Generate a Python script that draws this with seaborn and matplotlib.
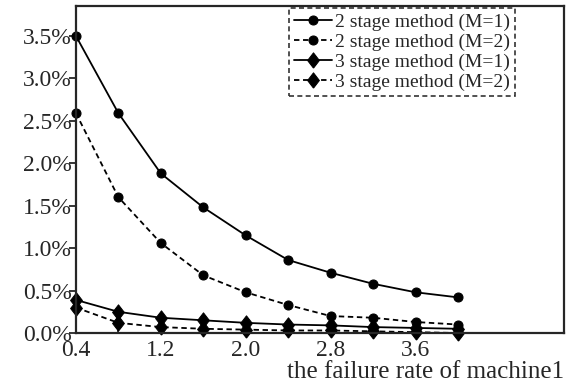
import numpy as np
import pandas as pd
import seaborn as sns
import matplotlib.pyplot as plt
from matplotlib.ticker import FixedLocator, FuncFormatter

# failure rate of machine 1
rate = [0.4, 0.8, 1.2, 1.6, 2.0, 2.4, 2.8, 3.2, 3.6, 4.0]

# error (%)
two_stage_m1 = [3.50, 2.59, 1.88, 1.48, 1.15, 0.86, 0.71, 0.58, 0.48, 0.42]
two_stage_m2 = [2.59, 1.60, 1.06, 0.68, 0.48, 0.33, 0.20, 0.18, 0.13, 0.10]
three_stage_m1 = [0.39, 0.25, 0.18, 0.15, 0.12, 0.10, 0.09, 0.07, 0.06, 0.05]
three_stage_m2 = [0.30, 0.12, 0.07, 0.05, 0.04, 0.03, 0.03, 0.02, 0.01, 0.00]

labels = ['2 stage method (M=1)', '2 stage method (M=2)',
          '3 stage method (M=1)', '3 stage method (M=2)']
series = [two_stage_m1, two_stage_m2, three_stage_m1, three_stage_m2]

x_ticks = [0.4, 1.2, 2.0, 2.8, 3.6]
y_ticks = [0.0, 0.5, 1.0, 1.5, 2.0, 2.5, 3.0, 3.5]

sns.set_style('ticks')
plt.rcParams['font.family'] = ['Liberation Serif', 'DejaVu Serif']

fig = plt.figure(figsize=(5.75, 3.85), dpi=100)
ax = fig.add_axes([0.132, 0.135, 0.849, 0.849])

# slightly tall diamond like the original
diamond = [(0, -1.3), (1, 0), (0, 1.3), (-1, 0), (0, -1.3)]
dash = (0, (3, 2))
styles = [('-', 'o', 6.5), (dash, 'o', 6.5),
          ('-', diamond, 11), (dash, diamond, 11)]
for lab, vals, (ls, mk, ms) in zip(labels, series, styles):
    df = pd.DataFrame({'rate': rate, 'err': vals})
    sns.lineplot(data=df, x='rate', y='err', ax=ax, color='black',
                 linestyle=ls, linewidth=1.3, marker=mk, markersize=ms,
                 markeredgecolor='black', label=lab, clip_on=False)

ax.set_xlim(0.4, 5.0)
ax.set_ylim(0.0, 3.85)
ax.xaxis.set_major_locator(FixedLocator(x_ticks))
ax.xaxis.set_minor_locator(FixedLocator([0.8, 1.6, 2.4, 3.2, 4.0]))
ax.yaxis.set_major_locator(FixedLocator(y_ticks))
ax.yaxis.set_major_formatter(FuncFormatter(lambda v, p: f'{v:.1f}%'))
ax.tick_params(axis='x', which='both', direction='in', length=5, width=1.3,
               labelsize=17, pad=5)
ax.tick_params(axis='y', direction='out', length=5, width=1.3,
               labelsize=17, pad=-2)
for s in ax.spines.values():
    s.set_linewidth(1.6)
    s.set_visible(True)

ax.set_ylabel('')
ax.set_xlabel('the failure rate of machine1', fontsize=18, loc='right',
              labelpad=0)

leg = ax.legend(loc='upper right', bbox_to_anchor=(0.9, 0.994),
                fontsize=14, frameon=True, fancybox=False,
                handlelength=2.0, handletextpad=0.15, labelspacing=0.12,
                borderpad=0.25, borderaxespad=0)
leg.get_frame().set_edgecolor('black')
leg.get_frame().set_linestyle(dash)
leg.get_frame().set_linewidth(1.2)

fig.savefig('out.png', dpi=100)
